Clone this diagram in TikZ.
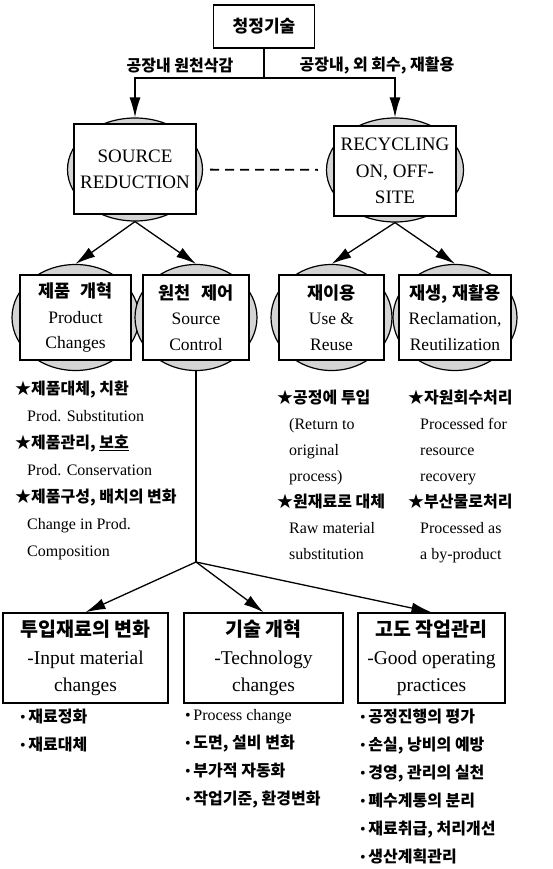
\documentclass[tikz,border=0pt]{standalone}
\usepackage{fontspec}
\setmainfont{Liberation Serif}
\newfontfamily\kr{Noto Sans CJK KR}
\newcommand{\kb}{\kr\bfseries}
\usetikzlibrary{arrows.meta,shapes.geometric}

\tikzset{
  box/.style={draw,line width=1.5pt,fill=white,align=center,inner sep=0pt},
  halo/.style={ellipse,draw,line width=1.2pt,fill=black!17,inner sep=0pt},
  arr/.style={line width=1.3pt,-{Latex[length=20pt,width=11pt]}},
  list/.style={anchor=north west,align=left,inner sep=0pt}
}

\begin{document}
\begin{tikzpicture}[x=1pt,y=-1pt]
\useasboundingbox (0,0) rectangle (552,869);

\node[box,minimum width=101pt,minimum height=43pt,font=\kb\fontsize{17}{20}\selectfont] (clean) at (264,26.5) {청정기술};
\coordinate (split) at (264,78);
\node[font=\kb\fontsize{16}{20}\selectfont] (lblsrc) at (180,66) {공장내 원천삭감};
\node[font=\kb\fontsize{16}{20}\selectfont] (lblrec) at (377,66) {공장내, 외 회수, 재활용};

\node[halo,minimum width=135pt,minimum height=103pt] (srcred-e) at (135,169.5) {};
\node[box,minimum width=122pt,minimum height=90pt,font=\fontsize{19}{26}\selectfont] (srcred) at (135,169) {SOURCE\\REDUCTION};
\node[halo,minimum width=137pt,minimum height=104pt] (recyc-e) at (395,170) {};
\node[box,minimum width=122pt,minimum height=90pt,font=\fontsize{19}{26.5}\selectfont] (recyc) at (395,171) {RECYCLING\\ON, OFF-\\SITE};

\draw[line width=1.3pt] (clean.south) -- (split);
\draw[arr] (split) -| (srcred-e.north);
\draw[arr] (split) -| (recyc-e.north);
\draw[line width=1.8pt,dash pattern=on 9pt off 6pt,shorten <=7pt,shorten >=8pt] (srcred-e) -- (recyc-e);

\node[halo,minimum width=127pt,minimum height=106pt] (prod-e) at (75.5,317.5) {};
\node[halo,minimum width=122pt,minimum height=106pt] (srcctl-e) at (196,317.5) {};
\node[halo,minimum width=121pt,minimum height=106pt] (reuse-e) at (331.5,317.5) {};
\node[halo,minimum width=124pt,minimum height=106pt] (reclam-e) at (455,317.5) {};
\node[box,minimum width=111pt,minimum height=85pt,font=\fontsize{17.5}{25.5}\selectfont] (prod) at (75.5,317.5) {{\kb 제품\hspace{0.6em}개혁}\\Product\\Changes};
\node[box,minimum width=106pt,minimum height=85pt,font=\fontsize{17.5}{25.5}\selectfont] (srcctl) at (196,317.5) {{\kb 원천\hspace{0.6em}제어}\\Source\\Control};
\node[box,minimum width=105pt,minimum height=85pt,font=\fontsize{17.5}{25.5}\selectfont] (reuse) at (331.5,317.5) {{\kb 재이용}\\Use \&\\Reuse};
\node[box,minimum width=112pt,minimum height=85pt,font=\fontsize{17.5}{25.5}\selectfont] (reclam) at (455,317.5) {{\kb 재생, 재활용}\\Reclamation,\\Reutilization};

\draw[arr] (srcred-e.south) -- (prod-e.north);
\draw[arr] (srcred-e.south) -- (srcctl-e.north);
\draw[arr] (recyc-e.south) -- (reuse-e.north);
\draw[arr] (recyc-e.south) -- (reclam-e.north);

\node[list,font=\fontsize{16}{27}\selectfont] (prodlist) at (15,381) {{\kb ★제품대체, 치환}\\
\hspace*{12pt}Prod. Substitution\\
{\kb ★제품관리, \underline{보호}}\\
\hspace*{12pt}Prod. Conservation\\
{\kb ★제품구성, 배치의 변화}\\
\hspace*{12pt}Change in Prod.\\
\hspace*{12pt}Composition};
\node[list,font=\fontsize{16}{26}\selectfont] (reuselist) at (277,390) {{\kb ★공정에 투입}\\
\hspace*{12pt}(Return to\\
\hspace*{12pt}original\\
\hspace*{12pt}process)\\
{\kb ★원재료로 대체}\\
\hspace*{12pt}Raw material\\
\hspace*{12pt}substitution};
\node[list,font=\fontsize{16}{26}\selectfont] (reclamlist) at (408,390) {{\kb ★자원회수처리}\\
\hspace*{12pt}Processed for\\
\hspace*{12pt}resource\\
\hspace*{12pt}recovery\\
{\kb ★부산물로처리}\\
\hspace*{12pt}Processed as\\
\hspace*{12pt}a by-product};

\coordinate (fork) at (196,562);
\draw[line width=1.3pt] (srcctl-e.south) -- (fork);
\node[box,minimum width=165pt,minimum height=90pt,font=\fontsize{19.5}{27.5}\selectfont] (inmat) at (85.5,658) {{\kb 투입재료의 변화}\\-Input material\\changes};
\node[box,minimum width=159pt,minimum height=90pt,font=\fontsize{19.5}{27.5}\selectfont] (tech) at (263.5,658) {{\kb 기술 개혁}\\-Technology\\changes};
\node[box,minimum width=147pt,minimum height=90pt,font=\fontsize{19.5}{27.5}\selectfont] (goodop) at (431.5,658) {{\kb 고도 작업관리}\\-Good operating\\practices};
\draw[arr] (fork) -- (inmat.north);
\draw[arr] (fork) -- (tech.north);
\draw[arr] (fork) -- (goodop.north);

\node[list,font=\fontsize{16}{28}\selectfont] (inmatlist) at (20,709) {•\,{\kb 재료정화}\\
•\,{\kb 재료대체}};
\node[list,font=\fontsize{16}{28}\selectfont] (techlist) at (185,709) {•\,Process change\\
•\,{\kb 도면, 설비 변화}\\
•\,{\kb 부가적 자동화}\\
•\,{\kb 작업기준, 환경변화}};
\node[list,font=\fontsize{16}{28}\selectfont] (goodoplist) at (360,709) {•\,{\kb 공정진행의 평가}\\
•\,{\kb 손실, 낭비의 예방}\\
•\,{\kb 경영, 관리의 실천}\\
•\,{\kb 폐수계통의 분리}\\
•\,{\kb 재료취급, 처리개선}\\
•\,{\kb 생산계획관리}};
\end{tikzpicture}
\end{document}
